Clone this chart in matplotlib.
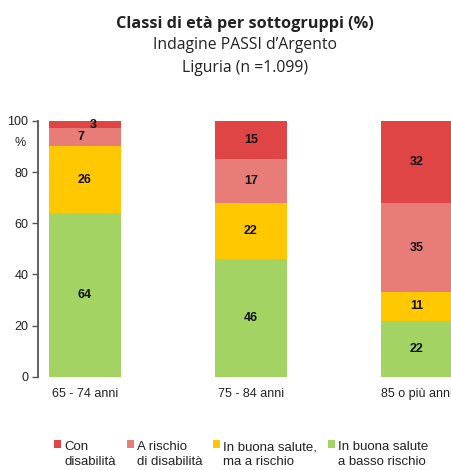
import matplotlib.pyplot as plt
import numpy as np
from matplotlib.patches import Rectangle
from matplotlib.container import BarContainer
from matplotlib.legend_handler import HandlerPatch

plt.rcParams['font.family'] = ['Liberation Sans', 'DejaVu Sans']

categorie = ["65 - 74 anni", "75 - 84 anni", "85 o più anni"]
verde = [64, 46, 22]      # In buona salute a basso rischio
giallo = [26, 22, 11]     # In buona salute, ma a rischio
rosa = [7, 17, 35]        # A rischio di disabilità
rosso = [3, 15, 32]       # Con disabilità

serie = [verde, giallo, rosa, rosso]
etichette = ["In buona salute\na basso rischio", "In buona salute,\nma a rischio",
             "A rischio\ndi disabilità", "Con\ndisabilità"]
colori = ["#A3D463", "#FFC800", "#E87C79", "#DF4545"]

fig = plt.figure(figsize=(4.52, 4.70), dpi=100)
ax = fig.add_axes([0.084, 0.198, 0.916, 0.545])

x = np.arange(len(categorie))
base = np.zeros(len(categorie))
for val, col, lab in zip(serie, colori, etichette):
    val = np.array(val)
    ax.bar(x, val, 0.435, bottom=base, color=col, label=lab)
    for xi, v, b0 in zip(x, val, base):
        dx = 0
        if v < 5:
            dx = 6
        elif v < 10 and b0 > 80:
            dx = -3
        ax.annotate(str(v), (xi, b0 + v / 2), xytext=(dx, 0), textcoords="offset points",
                    ha="center", va="center", fontsize=9, fontweight="bold", color="#111111")
    base = base + val

ax.set_xlim(-0.283, 2.211)
ax.set_ylim(0, 100)
ax.set_yticks([0, 20, 40, 60, 80, 100])
ax.set_xticks(x)
ax.set_xticklabels(categorie)
ax.tick_params(axis="x", length=0, pad=8, labelsize=9, colors="#222222")
ax.tick_params(axis="y", length=4, width=1, pad=3, labelsize=9, colors="#222222")
ax.tick_params(axis="y", color="#555555")
for s in ["top", "right", "bottom"]:
    ax.spines[s].set_visible(False)
ax.spines["left"].set_color("#555555")
ax.spines["left"].set_linewidth(1.3)

fig.text(0.045, 0.696, "%", fontsize=9, color="#222222", ha="center", va="center")

fig.text(0.542, 0.950, "Classi di età per sottogruppi (%)", fontsize=11.7, fontweight="bold",
         family=["Open Sans", "DejaVu Sans"], ha="center", va="center", color="#222222")
fig.text(0.542, 0.905, "Indagine PASSI d\u2019Argento", fontsize=11.3,
         family=["Open Sans", "DejaVu Sans"], ha="center", va="center", color="#222222")
fig.text(0.542, 0.855, "Liguria (n =1.099)", fontsize=11.3,
         family=["Open Sans", "DejaVu Sans"], ha="center", va="center", color="#222222")


# quadratino allineato alla prima riga dell'etichetta
def quadrato(legend, orig_handle, xdescent, ydescent, width, height, fontsize):
    return Rectangle((-xdescent, -ydescent + 0.8 * fontsize), width, height)


def copia_stile(legend_handle, orig_handle):
    legend_handle.update_from(orig_handle.patches[0])


h, l = ax.get_legend_handles_labels()
leg = fig.legend(h[::-1], l[::-1], loc="lower center", bbox_to_anchor=(0.534, -0.009), ncol=4,
                 frameon=False, fontsize=9.5, handlelength=0.53, handleheight=0.53,
                 handletextpad=0.25, columnspacing=0.8, borderpad=0, labelspacing=0,
                 handler_map={BarContainer: HandlerPatch(patch_func=quadrato,
                                                         update_func=copia_stile)})
for t in leg.get_texts():
    t.set_color("#222222")
    t.set_linespacing(1.25)

plt.savefig("out.png", dpi=100)
